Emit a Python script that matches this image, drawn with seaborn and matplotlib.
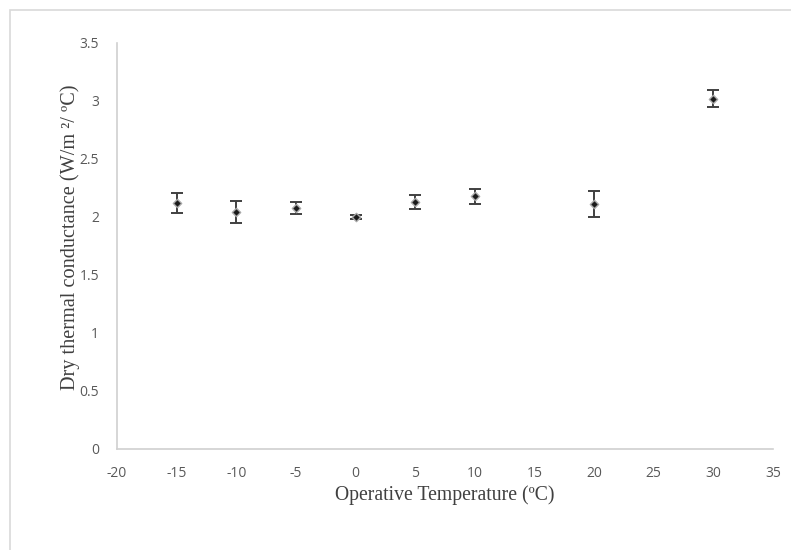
import matplotlib
matplotlib.use("Agg")
import matplotlib.pyplot as plt
import seaborn as sns
import pandas as pd
from matplotlib.patches import Rectangle

temperature = [-15, -10, -5, 0, 5, 10, 20, 30]
conductance = [2.12, 2.04, 2.08, 2.00, 2.13, 2.18, 2.11, 3.02]
error = [0.085, 0.095, 0.05, 0.02, 0.06, 0.065, 0.11, 0.075]

x_ticks = [-20, -15, -10, -5, 0, 5, 10, 15, 20, 25, 30, 35]
y_ticks = [0, 0.5, 1, 1.5, 2, 2.5, 3, 3.5]
y_tick_labels = ["0", "0.5", "1", "1.5", "2", "2.5", "3", "3.5"]

df = pd.DataFrame({"T": temperature, "G": conductance, "E": error})

sns.set_theme(style="white")
plt.rcParams["font.family"] = ["Open Sans", "DejaVu Sans"]

fig = plt.figure(figsize=(7.91, 5.5), dpi=100)
ax = fig.add_axes([117 / 791, 1 - 449 / 550, (773 - 117) / 791, (449 - 43) / 550])

# outer chart-area frame (like an Excel chart border)
fig.patches.append(Rectangle((9.5 / 791, -0.1), 1.2, 1 - 9.5 / 550 + 0.1,
                             transform=fig.transFigure, fill=False,
                             edgecolor="#d9d9d9", linewidth=1.2, zorder=0))

ax.errorbar(df["T"], df["G"], yerr=df["E"], fmt="none", ecolor="#404040",
            elinewidth=1.4, capsize=4.5, capthick=1.4, zorder=2)
sns.scatterplot(data=df, x="T", y="G", ax=ax, marker="D", s=18,
                color="#1a1a1a", edgecolor="#a8a8a8", linewidth=1.0, zorder=3)

ax.set_xlim(-20, 35)
ax.set_ylim(0, 3.5)
ax.set_xticks(x_ticks)
ax.set_xticklabels([str(t) for t in x_ticks])
ax.set_yticks(y_ticks)
ax.set_yticklabels(y_tick_labels)
ax.tick_params(axis="both", length=0, labelsize=10, labelcolor="#595959")
ax.tick_params(axis="x", pad=12)
ax.tick_params(axis="y", pad=13)

for s in ["top", "right"]:
    ax.spines[s].set_visible(False)
for s in ["left", "bottom"]:
    ax.spines[s].set_color("#d0d0d0")
    ax.spines[s].set_linewidth(1.2)

serif = ["Liberation Serif", "DejaVu Serif"]
ax.set_xlabel("Operative Temperature (ºC)", family=serif, fontsize=14.2,
              color="#404040")
ax.set_ylabel("Dry thermal conductance (W/m ²/ ºC)", family=serif, fontsize=14.6,
              color="#404040")
ax.xaxis.set_label_coords(0.5, -(485 - 449) / 406)
ax.yaxis.set_label_coords(-(117 - 80) / 656, (449 - 237) / 406)

fig.savefig("out.png", dpi=100)
